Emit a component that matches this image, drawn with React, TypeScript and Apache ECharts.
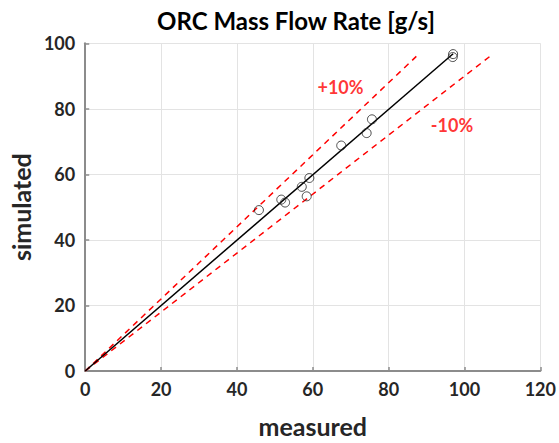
import React, { useEffect, useRef } from "react";
import * as echarts from "echarts";

const measured = [97.0, 96.9, 75.6, 74.2, 67.5, 59.1, 57.1, 58.4, 51.7, 52.7, 45.8];
const simulated = [96.7, 95.8, 76.8, 72.6, 68.8, 58.9, 56.2, 53.3, 52.3, 51.4, 49.1];
const fitLine = [[0, 0], [97.0, 96.8]];
const plus10 = [[0, 0], [87.3, 96.0]];
const minus10 = [[0, 0], [106.7, 96.0]];
const bandLabels = [
  { text: "+10%", pos: [67.3, 86.6] },
  { text: "-10%", pos: [96.7, 75.2] },
];
const xTicks = [0, 20, 40, 60, 80, 100, 120];
const yTicks = [0, 20, 40, 60, 80, 100];

const FONT = "Lato, 'Open Sans', sans-serif";

export default function App() {
  const ref = useRef<HTMLDivElement>(null);
  useEffect(() => {
    document.body.style.margin = "0";
    const chart = echarts.init(ref.current!, null, { renderer: "svg" });
    const axisCommon = {
      axisLine: { show: true, lineStyle: { color: "#8c8c8c", width: 2 } },
      axisTick: { show: true, inside: true, length: 4, lineStyle: { color: "#8c8c8c", width: 1.5 } },
      splitLine: { show: true, lineStyle: { color: "#e3e3e3", width: 1 } },
      axisLabel: { fontFamily: FONT, fontWeight: "bold", fontSize: 18, color: "#262626" },
      nameTextStyle: { fontFamily: FONT, fontWeight: "bold", fontSize: 25, color: "#262626" },
    };
    chart.setOption({
      animation: false,
      backgroundColor: "#fff",
      graphic: [
        {
          type: "text",
          x: 296,
          y: 20,
          style: {
            text: "ORC Mass Flow Rate [g/s]",
            fontFamily: FONT,
            fontWeight: "bold",
            fontSize: 24,
            fill: "#000",
            textAlign: "center",
            textVerticalAlign: "middle",
          },
        },
      ],
      grid: { left: 83, right: 18, top: 43.3, bottom: 66.3, containLabel: false },
      xAxis: {
        type: "value",
        min: xTicks[0],
        max: xTicks[xTicks.length - 1],
        interval: 20,
        name: "measured",
        nameLocation: "middle",
        nameGap: 42,
        ...axisCommon,
        axisLabel: { ...axisCommon.axisLabel, margin: 9 },
      },
      yAxis: {
        type: "value",
        min: yTicks[0],
        max: yTicks[yTicks.length - 1],
        interval: 20,
        name: "simulated",
        nameLocation: "middle",
        nameGap: 48,
        ...axisCommon,
        axisLabel: { ...axisCommon.axisLabel, margin: 10 },
      },
      series: [
        {
          type: "line",
          data: plus10,
          symbol: "none",
          lineStyle: { color: "#ff0000", type: [6, 5], width: 1.5 },
          z: 2,
        },
        {
          type: "line",
          data: minus10,
          symbol: "none",
          lineStyle: { color: "#ff0000", type: [6, 5], width: 1.5 },
          z: 2,
        },
        {
          type: "line",
          data: fitLine,
          symbol: "none",
          lineStyle: { color: "#000", width: 1.5 },
          z: 3,
        },
        {
          type: "scatter",
          data: measured.map((m, i) => [m, simulated[i]]),
          symbol: "circle",
          symbolSize: 9,
          itemStyle: { color: "transparent", borderColor: "#222", borderWidth: 1 },
          z: 4,
        },
        {
          type: "scatter",
          data: bandLabels.map((b) => ({ value: b.pos, name: b.text })),
          symbolSize: 0,
          label: {
            show: true,
            position: "inside",
            formatter: (p: any) => p.name,
            fontFamily: FONT,
            fontWeight: "bold",
            fontSize: 18,
            color: "#ff0000",
          },
          z: 5,
        },
      ],
    });
    return () => chart.dispose();
  }, []);
  return <div ref={ref} style={{ width: 559, height: 443 }} />;
}
